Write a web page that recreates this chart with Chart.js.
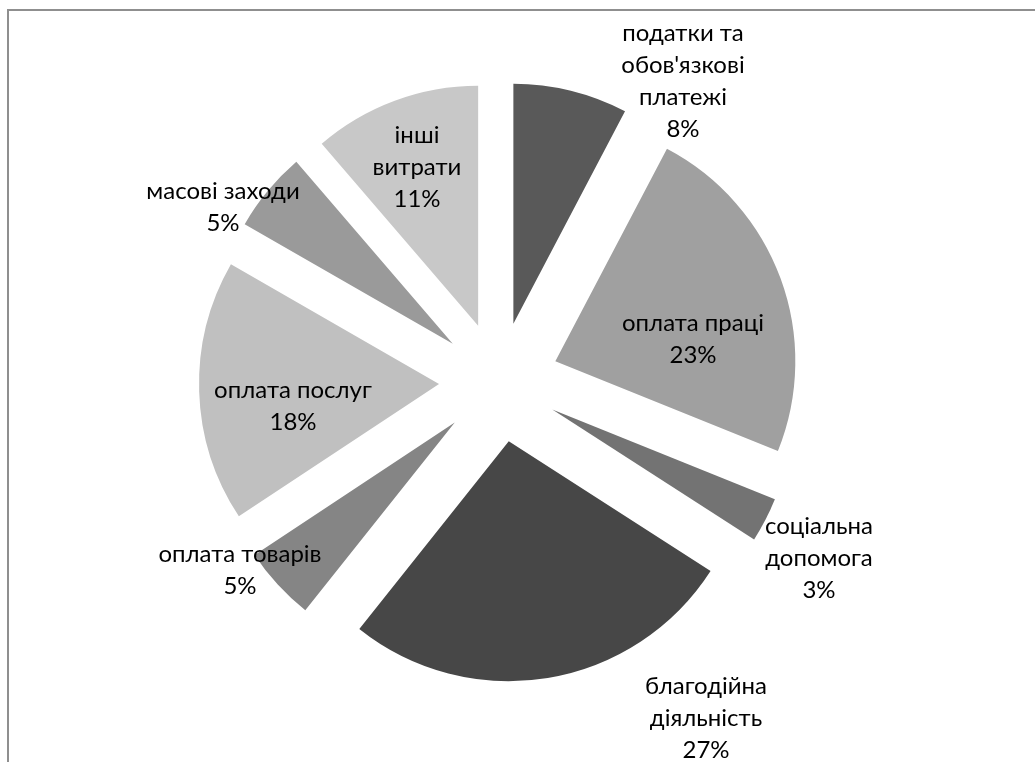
<!DOCTYPE html>
<html><head><meta charset="utf-8">
<script src="https://cdn.jsdelivr.net/npm/chart.js@4/dist/chart.umd.min.js"></script>
<style>
html,body{margin:0;padding:0;background:#fff;}
#wrap{position:relative;width:1035px;height:762px;overflow:hidden;background:#fff;}
#frame{position:absolute;left:7px;top:9px;width:1100px;height:800px;border-left:2px solid #8f8f8f;border-top:2px solid #8f8f8f;}
canvas{position:absolute;left:0;top:0;}
</style></head><body>
<div id="wrap"><div id="frame"></div><canvas id="c" width="1035" height="762"></canvas></div>
<script>
// categories (each label split into its display lines)
const categories = [
  ["податки та", "обов'язкові", "платежі"],
  ["оплата праці"],
  ["соціальна", "допомога"],
  ["благодійна", "діяльність"],
  ["оплата товарів"],
  ["оплата послуг"],
  ["масові заходи"],
  ["інші", "витрати"]
];
// shares, % (labels show them rounded)
const values = [7.7, 23.4, 3.0, 26.6, 5.0, 17.6, 5.4, 11.3];

// styles (kept apart from data)
const sliceColors = ["#595959", "#a0a0a0", "#737373", "#474747", "#858585", "#c0c0c0", "#9a9a9a", "#c8c8c8"];
// label block centre relative to pie centre, px
const labelOffsets = [[184, -301], [194, -43], [320, 176], [207, 336], [-259, 188], [-206, 24], [-276, -175], [-82, -215]];
const EXPLODE = 60;
const LINE_H = 32;
const FONT = "24px Lato, Roboto, sans-serif";

const explodePlugin = {
  id: 'explode',
  beforeDatasetDraw(chart, args) {
    const ctx = chart.ctx;
    args.meta.data.forEach(el => {
      const mid = (el.startAngle + el.endAngle) / 2;
      ctx.save();
      ctx.translate(Math.cos(mid) * EXPLODE, Math.sin(mid) * EXPLODE);
      el.draw(ctx, chart.chartArea);
      ctx.restore();
    });
    return false;
  },
  afterDatasetsDraw(chart) {
    const ctx = chart.ctx;
    const meta = chart.getDatasetMeta(0);
    ctx.save();
    ctx.font = FONT;
    ctx.fillStyle = "#000";
    ctx.textAlign = "center";
    ctx.textBaseline = "middle";
    meta.data.forEach((el, i) => {
      const lines = categories[i].concat([Math.round(values[i]) + "%"]);
      const cx = el.x + labelOffsets[i][0];
      const cy = el.y + labelOffsets[i][1];
      const y0 = cy - (lines.length - 1) * LINE_H / 2;
      lines.forEach((t, k) => ctx.fillText(t, cx, y0 + k * LINE_H));
    });
    ctx.restore();
  }
};

new Chart(document.getElementById('c'), {
  type: 'pie',
  data: {
    labels: categories.map(l => l.join(' ')),
    datasets: [{
      data: values,
      backgroundColor: sliceColors,
      borderWidth: 0,
      radius: 240
    }]
  },
  options: {
    responsive: false,
    animation: false,
    radius: 240,
    layout: { padding: { left: 0, right: 37, top: 2, bottom: 0 } },
    plugins: { legend: { display: false }, tooltip: { enabled: false } }
  },
  plugins: [explodePlugin]
});
</script>
</body></html>
